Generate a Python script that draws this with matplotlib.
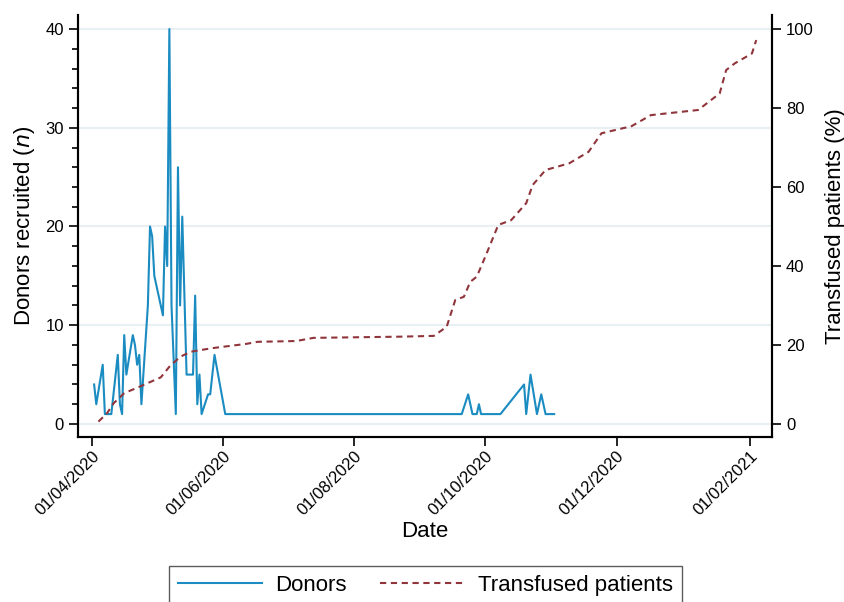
import matplotlib
matplotlib.use("Agg")
import matplotlib.pyplot as plt
import matplotlib.dates as mdates
from matplotlib.ticker import MultipleLocator
import numpy as np

plt.rcParams['font.family'] = ['Liberation Sans', 'DejaVu Sans']

donor_dates = ["2020-04-02", "2020-04-03", "2020-04-06", "2020-04-07", "2020-04-10",
               "2020-04-13", "2020-04-14", "2020-04-15", "2020-04-16", "2020-04-17",
               "2020-04-20", "2020-04-21", "2020-04-22", "2020-04-23", "2020-04-24",
               "2020-04-27", "2020-04-28", "2020-04-29", "2020-04-30", "2020-05-04",
               "2020-05-05", "2020-05-06", "2020-05-07", "2020-05-08", "2020-05-10",
               "2020-05-11", "2020-05-12", "2020-05-13", "2020-05-15", "2020-05-18",
               "2020-05-19", "2020-05-20", "2020-05-21", "2020-05-22", "2020-05-25",
               "2020-05-26", "2020-05-28", "2020-06-02", "2020-09-20", "2020-09-23",
               "2020-09-25", "2020-09-27", "2020-09-28", "2020-09-29", "2020-10-08",
               "2020-10-19", "2020-10-20", "2020-10-22", "2020-10-25", "2020-10-27",
               "2020-10-29", "2020-11-02"]
donor_values = [4, 2, 6, 1, 1,
                7, 2, 1, 9, 5,
                9, 8, 6, 7, 2,
                12, 20, 19, 15, 11,
                20, 16, 40, 12, 1,
                26, 12, 21, 5, 5,
                13, 2, 5, 1, 3,
                3, 7, 1, 1, 3,
                1, 1, 2, 1, 1,
                4, 1, 5, 1, 3,
                1, 1]

transf_dates = ["2020-04-04", "2020-04-08", "2020-04-11", "2020-04-16", "2020-04-23",
                "2020-05-03", "2020-05-07", "2020-05-12", "2020-05-17", "2020-05-27",
                "2020-06-12", "2020-06-17", "2020-07-05", "2020-07-13", "2020-08-22",
                "2020-09-07", "2020-09-13", "2020-09-17", "2020-09-21", "2020-09-24",
                "2020-09-27", "2020-10-01", "2020-10-07", "2020-10-13", "2020-10-20",
                "2020-10-23", "2020-10-29", "2020-11-09", "2020-11-18", "2020-11-24",
                "2020-12-08", "2020-12-17", "2021-01-08", "2021-01-13", "2021-01-18",
                "2021-01-21", "2021-01-25", "2021-02-02", "2021-02-04"]
transf_values = [0.6, 2.7, 5.2, 7.8, 9.4,
                 11.8, 14.5, 17.0, 18.3, 19.2,
                 20.3, 20.8, 21.0, 21.8, 22.1,
                 22.3, 24.6, 31.4, 32.2, 36.0,
                 37.3, 42.4, 50.4, 51.6, 55.9,
                 60.5, 64.3, 66.0, 68.9, 73.6,
                 75.4, 78.2, 79.5, 81.6, 83.7,
                 89.6, 91.3, 93.8, 97.2]

x_ticks = ["2020-04-01", "2020-06-01", "2020-08-01", "2020-10-01", "2020-12-01", "2021-02-01"]

blue = "#1a8cc1"
red = "#90353b"

fig = plt.figure(figsize=(8.45, 6.02), dpi=100)
ax = fig.add_axes([78/845, 1-437/602, (772-78)/845, (437-15)/602])
ax2 = ax.twinx()

dd = np.array(donor_dates, dtype="datetime64[D]")
td = np.array(transf_dates, dtype="datetime64[D]")

for y in [0, 10, 20, 30, 40]:
    ax.axhline(y, color="#e9f0f3", lw=1.5, zorder=0)

l1, = ax.plot(dd, donor_values, color=blue, lw=1.5, label="Donors", zorder=3)
l2, = ax2.plot(td, transf_values, color=red, lw=1.5, ls=(0, (3, 2.2)), label="Transfused patients")

ax.set_ylim(-1.32, 41.42)
ax2.set_ylim(-3.3, 103.55)
ax.set_xlim(np.datetime64("2020-03-25T12:00"), np.datetime64("2021-02-11T08:00"))

ax.set_yticks([0, 10, 20, 30, 40])
ax.yaxis.set_minor_locator(MultipleLocator(2))
ax2.set_yticks([0, 20, 40, 60, 80, 100])

ax.set_xticks(np.array(x_ticks, dtype="datetime64[D]"))
ax.xaxis.set_major_formatter(mdates.DateFormatter("%d/%m/%Y"))
for lab in ax.get_xticklabels():
    lab.set_rotation(45)
    lab.set_ha("right")
    lab.set_rotation_mode("anchor")

for a in (ax, ax2):
    a.spines["top"].set_visible(False)
    for s in ("left", "right", "bottom"):
        a.spines[s].set_linewidth(1.5)
        a.spines[s].set_color("black")
    a.tick_params(which="major", length=6.5, width=1.2, labelsize=12, colors="black")
    a.tick_params(which="minor", length=4.3, width=1.2)
ax.tick_params(axis="x", pad=2)

ax.set_xlabel("Date", fontsize=16, labelpad=2)
ax.set_ylabel("Donors recruited ($\\it{n}$)", fontsize=16, labelpad=6)
ax2.set_ylabel("Transfused patients (%)", fontsize=16, labelpad=8)

leg = fig.legend(handles=[l1, l2], loc="upper center", bbox_to_anchor=(425.5/845, 1-566/602),
                 ncol=2, fontsize=16, frameon=True, fancybox=False, handlelength=3.8,
                 handletextpad=0.6, columnspacing=1.5, borderpad=0.4, borderaxespad=0)
leg.get_frame().set_edgecolor("#333333")
leg.get_frame().set_linewidth(1.0)

fig.savefig("out.png", dpi=100)
